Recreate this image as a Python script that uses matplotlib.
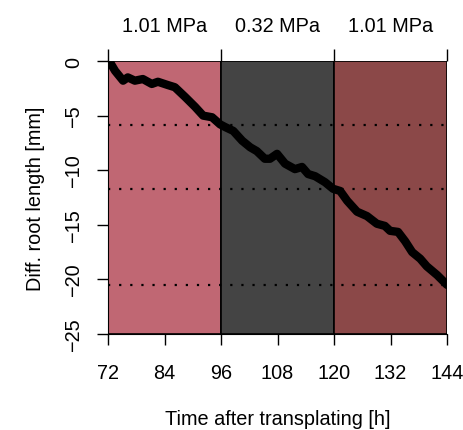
import numpy as np
from matplotlib import pyplot as plt
from matplotlib.patches import Rectangle

plt.rcParams['font.family'] = ['Liberation Sans', 'DejaVu Sans']

# root growth curve
hours = [72.0, 72.4, 73.5, 75.2, 76.2, 77.7, 79.4, 81.3, 82.6, 84.7, 86.2, 88.4,
         90.5, 92.2, 94.1, 95.8, 96.9, 98.6, 100.5, 102.2, 103.6, 105.3, 106.4,
         107.9, 109.6, 111.7, 113.2, 114.5, 116.0, 118.1, 119.8, 121.3, 122.8,
         124.9, 127.0, 129.1, 130.8, 131.9, 133.6, 135.1, 136.6, 138.3, 139.7,
         141.9, 144.0]
diff_len = [0.0, -0.1, -0.9, -1.8, -1.5, -1.8, -1.65, -2.1, -1.9, -2.2, -2.4, -3.3,
            -4.2, -5.0, -5.15, -5.8, -6.05, -6.4, -7.3, -7.9, -8.25, -8.95, -8.95,
            -8.5, -9.4, -9.9, -9.7, -10.35, -10.55, -11.1, -11.7, -11.9, -12.8,
            -13.8, -14.2, -14.9, -15.1, -15.55, -15.65, -16.5, -17.5, -18.1, -18.8,
            -19.6, -20.5]

# treatment periods
per_start = [72, 96, 120]
per_end = [96, 120, 144]
per_label = ["1.01 MPa", "0.32 MPa", "1.01 MPa"]
per_col = ["#C06773", "#444444", "#8B4848"]

# reference levels at period ends
ref_lev = [-5.9, -11.7, -20.5]

fs = 14.3

fig = plt.figure(figsize=(4.64, 4.31), dpi=100)
ax = fig.add_axes([0.2328, 0.2227, 0.7306, 0.6334])

for s, e, c in zip(per_start, per_end, per_col):
    ax.add_patch(Rectangle((s, -25), e - s, 25, facecolor=c, edgecolor="black",
                           linewidth=1.2, zorder=1))

for r in ref_lev:
    ax.axhline(r, color="black", linestyle=(0, (1, 4)), linewidth=1.6, zorder=2)

ax.plot(hours, diff_len, color="black", linewidth=6, solid_capstyle="round",
        solid_joinstyle="round", zorder=3)

ax.set_xlim(72, 144)
ax.set_ylim(-25, 0)
ax.spines['top'].set_visible(False)
ax.spines['right'].set_visible(False)
ax.spines['left'].set_bounds(-25, 0)
ax.set_xticks([72, 84, 96, 108, 120, 132, 144])
ax.set_yticks([0, -5, -10, -15, -20, -25])
ax.set_yticklabels(["0", "\u22125", "\u221210", "\u221215", "\u221220", "\u221225"],
                   rotation=90, va="center")
ax.tick_params(axis="both", length=8, width=1, labelsize=fs)
ax.tick_params(axis="y", pad=10)
ax.tick_params(axis="x", pad=13)

top = ax.secondary_xaxis("top")
top.spines['top'].set_visible(False)
top.set_xticks(per_start + [144])
top.set_xticklabels([])
top.set_xticks([(s + e) / 2 for s, e in zip(per_start, per_end)], minor=True)
top.set_xticklabels(per_label, minor=True)
top.tick_params(axis="x", which="major", length=9, width=1, direction="out", pad=0)
top.tick_params(axis="x", which="minor", length=0, labelsize=fs, pad=19)

ax.set_xlabel("Time after transplating [h]", fontsize=fs, labelpad=19)
ax.set_ylabel("Diff. root length [mm]", fontsize=fs, labelpad=14)

plt.savefig("out.png", dpi=100)
